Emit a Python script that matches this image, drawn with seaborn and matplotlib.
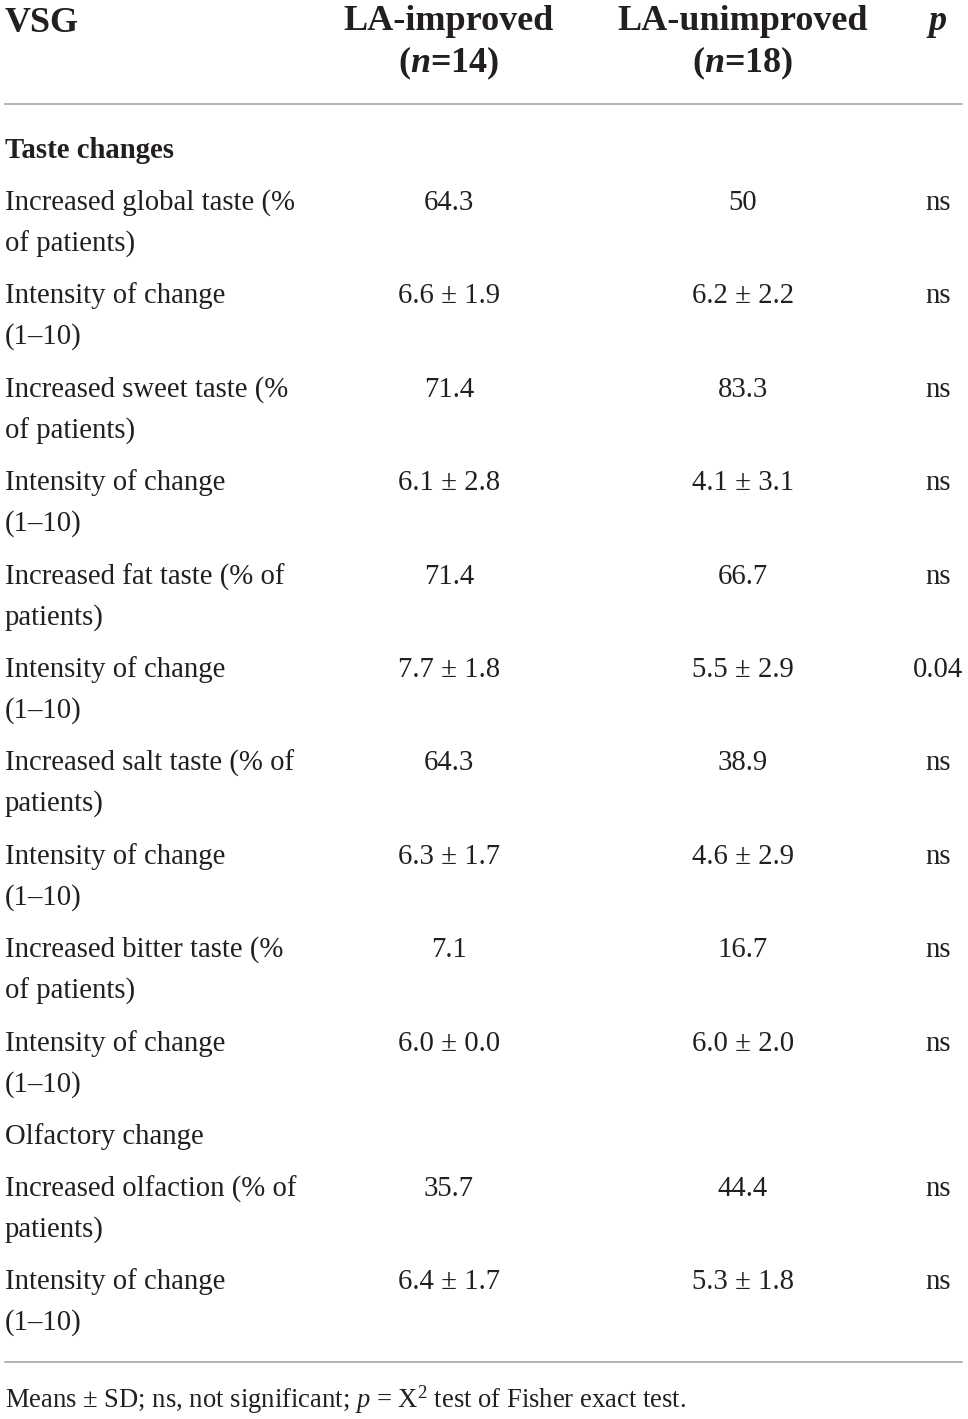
import matplotlib
matplotlib.use("Agg")
import matplotlib.pyplot as plt
import seaborn as sns

# ---------------- data ----------------
col_headers = ["VSG", "LA-improved", "LA-unimproved", "p"]
group_n = ["14", "18"]
section_title = "Taste changes"
row_labels = [
    "Increased global taste (%\nof patients)",
    "Intensity of change\n(1\u201310)",
    "Increased sweet taste (%\nof patients)",
    "Intensity of change\n(1\u201310)",
    "Increased fat taste (% of\npatients)",
    "Intensity of change\n(1\u201310)",
    "Increased salt taste (% of\npatients)",
    "Intensity of change\n(1\u201310)",
    "Increased bitter taste (%\nof patients)",
    "Intensity of change\n(1\u201310)",
    "Olfactory change",
    "Increased olfaction (% of\npatients)",
    "Intensity of change\n(1\u201310)",
]
improved = ["64.3", "6.6 \u00b1 1.9", "71.4", "6.1 \u00b1 2.8", "71.4", "7.7 \u00b1 1.8",
            "64.3", "6.3 \u00b1 1.7", "7.1", "6.0 \u00b1 0.0", "", "35.7", "6.4 \u00b1 1.7"]
unimproved = ["50", "6.2 \u00b1 2.2", "83.3", "4.1 \u00b1 3.1", "66.7", "5.5 \u00b1 2.9",
              "38.9", "4.6 \u00b1 2.9", "16.7", "6.0 \u00b1 2.0", "", "44.4", "5.3 \u00b1 1.8"]
p_values = ["ns", "ns", "ns", "ns", "ns", "0.04", "ns", "ns", "ns", "ns", "", "ns", "ns"]
footnote = r"Means $\pm$ SD; ns, not significant; $p$ = X$^2$ test of Fisher exact test."

# ---------------- style ----------------
sns.set_theme(style="white")
plt.rcParams["font.family"] = ["Liberation Serif", "DejaVu Serif"]
plt.rcParams["mathtext.fontset"] = "custom"
plt.rcParams["mathtext.rm"] = "Liberation Serif"
plt.rcParams["mathtext.it"] = "Liberation Serif:italic"
plt.rcParams["mathtext.bf"] = "Liberation Serif:bold"
plt.rcParams["mathtext.bfit"] = "Liberation Serif:italic:bold"

TXT = "#231f20"
LINE = "#ababab"
W, H = 968, 1419
fig = plt.figure(figsize=(W / 100, H / 100), dpi=100)
fig.patch.set_facecolor("white")
ax = fig.add_axes([0, 0, 1, 1])
ax.set_xlim(0, W)
ax.set_ylim(H, 0)
ax.axis("off")

x_label = 5
x_c1, x_c2, x_c3 = 449, 743, 938
body_fs = 20.7
head_fs = 26
foot_fs = 19.2
line_gap = 41
dy = 2  # small downward shift so glyph centres match

# header
ax.text(x_label, 21 + dy, col_headers[0], fontsize=head_fs, fontweight="bold", color=TXT, va="center", ha="left")
ax.text(x_c1, 20 + dy, col_headers[1], fontsize=head_fs, fontweight="bold", color=TXT, va="center", ha="center")
ax.text(x_c2, 20 + dy, col_headers[2], fontsize=head_fs, fontweight="bold", color=TXT, va="center", ha="center")
ax.text(x_c3, 20 + dy, col_headers[3], fontsize=head_fs, fontweight="bold", fontstyle="italic", color=TXT,
        va="center", ha="center")
ax.text(x_c1, 61 + dy, r"($\mathbfit{n}$=" + group_n[0] + ")", fontsize=head_fs, fontweight="bold", color=TXT,
        va="center", ha="center")
ax.text(x_c2, 61 + dy, r"($\mathbfit{n}$=" + group_n[1] + ")", fontsize=head_fs, fontweight="bold", color=TXT,
        va="center", ha="center")

ax.plot([5, 962], [104, 104], color=LINE, lw=1.3)

ax.text(x_label, 149 + dy, section_title, fontsize=body_fs, fontweight="bold", color=TXT, va="center", ha="left")

row_y = [201, 294, 388, 481, 575, 668, 761, 855, 948, 1042, 1135, 1187, 1280]
for y, lab, a, b, p in zip(row_y, row_labels, improved, unimproved, p_values):
    y = y + dy
    for i, part in enumerate(lab.split("\n")):
        ax.text(x_label, y + i * line_gap, part, fontsize=body_fs, color=TXT, va="center", ha="left")
    ax.text(x_c1, y, a, fontsize=body_fs, color=TXT, va="center", ha="center")
    ax.text(x_c2, y, b, fontsize=body_fs, color=TXT, va="center", ha="center")
    ax.text(x_c3, y, p, fontsize=body_fs, color=TXT, va="center", ha="center")

ax.plot([5, 962], [1362, 1362], color=LINE, lw=1.3)
ax.text(x_label, 1398 + dy, footnote, fontsize=foot_fs, color=TXT, va="center", ha="left")

fig.savefig("out.png", dpi=100, facecolor="white")
